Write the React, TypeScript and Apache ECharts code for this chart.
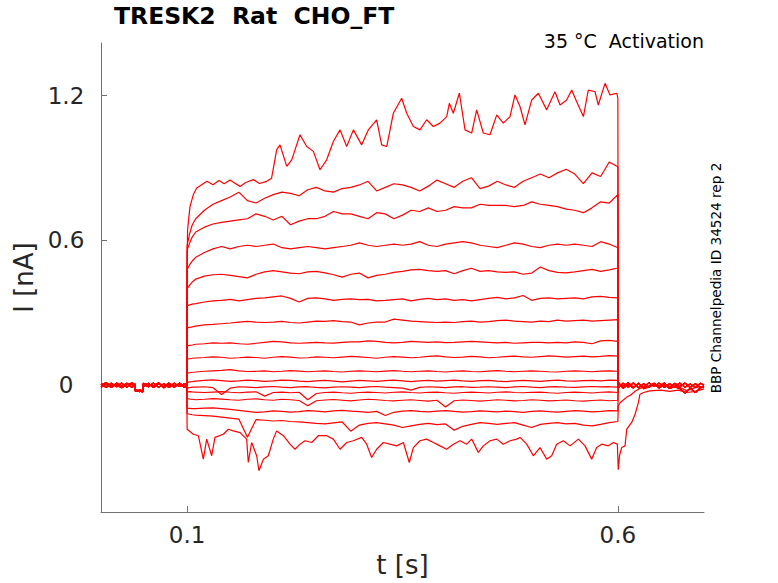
import React, { useEffect, useRef } from 'react';
import * as echarts from 'echarts';

// baseline before the step (three overlapping sweeps)
const preT = [0, 0.006, 0.012, 0.018, 0.024, 0.03, 0.036, 0.0395, 0.04, 0.045, 0.0485,
  0.049, 0.055, 0.061, 0.067, 0.073, 0.079, 0.085, 0.091, 0.097, 0.0995];
const preA = [0.006, -0.009, 0.008, -0.006, 0.009, -0.008, 0.005, -0.003, -0.022, -0.026, -0.02,
  0.003, -0.006, 0.009, -0.008, 0.006, -0.009, 0.008, -0.005, 0.006, 0.0];
const preB = [-0.008, 0.006, -0.009, 0.009, -0.005, 0.008, -0.009, 0.006, -0.026, -0.02, -0.024,
  -0.005, 0.008, -0.009, 0.006, -0.006, 0.009, -0.008, 0.009, -0.006, 0.003];
const preC = [0.002, 0.01, -0.003, 0.002, -0.01, 0.003, 0.009, 0.0, -0.018, -0.024, -0.028,
  0.008, 0.0, -0.003, 0.01, -0.01, 0.002, -0.002, 0.005, -0.009, -0.003];

// baseline after the step
const postT = [0.6005, 0.606, 0.612, 0.618, 0.624, 0.63, 0.636, 0.642, 0.648, 0.654, 0.66,
  0.666, 0.672, 0.678, 0.684, 0.69, 0.696, 0.7];
const postA = [0.008, -0.006, 0.011, -0.009, 0.006, -0.008, 0.01, -0.005, 0.009, -0.009, 0.006,
  -0.006, 0.009, -0.008, 0.005, -0.009, 0.008, 0.0];
const postB = [-0.011, 0.009, -0.008, 0.01, -0.01, 0.006, -0.009, 0.008, -0.006, 0.009, -0.01,
  0.008, -0.006, 0.009, -0.009, 0.006, -0.008, -0.003];
const postC = [0.012, -0.012, 0.003, -0.011, 0.009, -0.014, -0.006, 0.006, -0.011, 0.003, -0.013,
  -0.006, -0.014, -0.032, -0.012, -0.03, -0.01, -0.008];

// largest sweep
const topT = [
  0.1, 0.1005, 0.1033, 0.1072, 0.1111, 0.1169, 0.123, 0.13, 0.137, 0.143,
  0.1498, 0.155, 0.1614, 0.168, 0.1768, 0.184, 0.1923, 0.198, 0.204, 0.2078,
  0.2156, 0.2214, 0.231, 0.2388, 0.2465, 0.2542, 0.262, 0.2697, 0.2775, 0.2852,
  0.293, 0.3026, 0.3103, 0.32, 0.3258, 0.3317, 0.3394, 0.349, 0.3549, 0.3626,
  0.3703, 0.3781, 0.3858, 0.3935, 0.4013, 0.4044, 0.409, 0.416, 0.4226, 0.4303,
  0.4361, 0.4438, 0.4516, 0.4594, 0.467, 0.4748, 0.4806, 0.4864, 0.4922, 0.5,
  0.5077, 0.5174, 0.527, 0.5329, 0.5406, 0.5464, 0.5522, 0.56, 0.5657, 0.5735,
  0.5773, 0.5851, 0.5909, 0.5987, 0.6,
];
const topI = [
  0.5, 0.645, 0.74, 0.79, 0.817, 0.831, 0.845, 0.831, 0.848, 0.835,
  0.85, 0.838, 0.824, 0.84, 0.852, 0.836, 0.845, 0.858, 0.976, 0.996,
  0.907, 0.934, 1.038, 0.989, 0.969, 0.893, 0.934, 1.01, 1.058, 0.989,
  1.058, 0.996, 1.058, 1.1, 0.996, 0.989, 1.127, 1.189, 1.127, 1.072,
  1.058, 1.1, 1.072, 1.086, 1.113, 1.168, 1.127, 1.21, 1.058, 1.045,
  1.141, 1.045, 1.038, 1.12, 1.086, 1.113, 1.203, 1.155, 1.079, 1.182,
  1.21, 1.141, 1.216, 1.161, 1.182, 1.223, 1.175, 1.113, 1.223, 1.216,
  1.161, 1.251, 1.203, 1.21, 1.19,
];

// common time grid for the middle sweeps
const stepT = [
  0.1, 0.103, 0.106, 0.11, 0.12, 0.13, 0.14, 0.15, 0.16, 0.17, 0.18, 0.19,
  0.2, 0.21, 0.22, 0.23, 0.24, 0.25, 0.26, 0.27, 0.28, 0.29,
  0.3, 0.31, 0.32, 0.33, 0.34, 0.35, 0.36, 0.37, 0.38, 0.39,
  0.4, 0.41, 0.42, 0.43, 0.44, 0.45, 0.46, 0.47, 0.48, 0.49,
  0.5, 0.51, 0.52, 0.53, 0.54, 0.55, 0.56, 0.57, 0.58, 0.59,
  0.6,
];
const i2 = [
  0.58, 0.63, 0.665, 0.69, 0.725, 0.75, 0.765, 0.78, 0.8, 0.765, 0.755, 0.775,
  0.79, 0.8, 0.795, 0.785, 0.81, 0.82, 0.805, 0.8, 0.815, 0.82,
  0.83, 0.845, 0.805, 0.82, 0.835, 0.83, 0.82, 0.805, 0.825, 0.85,
  0.835, 0.82, 0.845, 0.86, 0.815, 0.825, 0.845, 0.83, 0.82, 0.845,
  0.86, 0.875, 0.86, 0.88, 0.895, 0.875, 0.835, 0.88, 0.865, 0.925,
  0.905,
];
const i3 = [
  0.56, 0.59, 0.615, 0.635, 0.655, 0.668, 0.675, 0.68, 0.685, 0.69, 0.71, 0.7,
  0.685, 0.7, 0.665, 0.68, 0.69, 0.69, 0.7, 0.72, 0.71, 0.71,
  0.7, 0.69, 0.715, 0.71, 0.69, 0.705, 0.725, 0.72, 0.735, 0.72,
  0.725, 0.74, 0.735, 0.735, 0.75, 0.745, 0.745, 0.745, 0.74, 0.745,
  0.76, 0.75, 0.745, 0.74, 0.73, 0.725, 0.715, 0.735, 0.76, 0.755,
  0.79,
];
const i4 = [
  0.48, 0.5, 0.515, 0.53, 0.55, 0.565, 0.575, 0.565, 0.575, 0.58, 0.575, 0.58,
  0.585, 0.57, 0.565, 0.57, 0.575, 0.57, 0.565, 0.57, 0.575, 0.58,
  0.59, 0.58, 0.575, 0.58, 0.585, 0.58, 0.585, 0.595, 0.58, 0.575,
  0.585, 0.59, 0.595, 0.59, 0.58, 0.575, 0.57, 0.58, 0.59, 0.585,
  0.575, 0.57, 0.58, 0.585, 0.58, 0.585, 0.58, 0.575, 0.595, 0.585,
  0.57,
];
const i5 = [
  0.4, 0.415, 0.428, 0.44, 0.452, 0.458, 0.46, 0.455, 0.45, 0.445, 0.46, 0.47,
  0.475, 0.47, 0.465, 0.462, 0.47, 0.472, 0.466, 0.458, 0.448, 0.46,
  0.465, 0.445, 0.455, 0.46, 0.468, 0.472, 0.478, 0.48, 0.475, 0.472,
  0.475, 0.462, 0.475, 0.485, 0.472, 0.475, 0.47, 0.468, 0.47, 0.46,
  0.465, 0.49, 0.475, 0.468, 0.466, 0.47, 0.475, 0.48, 0.472, 0.478,
  0.486,
];
const i6 = [
  0.33, 0.333, 0.336, 0.338, 0.345, 0.35, 0.352, 0.356, 0.35, 0.355, 0.36, 0.362,
  0.366, 0.37, 0.36, 0.345, 0.36, 0.362, 0.358, 0.352, 0.356, 0.358,
  0.355, 0.356, 0.35, 0.352, 0.355, 0.358, 0.35, 0.356, 0.36, 0.355,
  0.358, 0.352, 0.355, 0.35, 0.355, 0.36, 0.364, 0.358, 0.362, 0.372,
  0.352, 0.36, 0.362, 0.358, 0.36, 0.362, 0.358, 0.366, 0.368, 0.364,
  0.362,
];
const i7 = [
  0.238, 0.24, 0.242, 0.245, 0.25, 0.252, 0.255, 0.258, 0.262, 0.265, 0.262, 0.26,
  0.262, 0.265, 0.26, 0.258, 0.262, 0.266, 0.265, 0.268, 0.264, 0.262,
  0.25, 0.258, 0.262, 0.262, 0.274, 0.27, 0.266, 0.264, 0.262, 0.26,
  0.262, 0.26, 0.264, 0.266, 0.262, 0.264, 0.268, 0.27, 0.266, 0.264,
  0.262, 0.266, 0.264, 0.27, 0.266, 0.268, 0.27, 0.266, 0.268, 0.27,
  0.272,
];
const i8 = [
  0.163, 0.165, 0.167, 0.17, 0.172, 0.176, 0.174, 0.176, 0.172, 0.17, 0.174, 0.178,
  0.182, 0.18, 0.176, 0.174, 0.176, 0.178, 0.176, 0.175, 0.178, 0.18,
  0.18, 0.184, 0.182, 0.178, 0.176, 0.178, 0.182, 0.18, 0.178, 0.18,
  0.177, 0.178, 0.18, 0.182, 0.18, 0.178, 0.176, 0.178, 0.174, 0.176,
  0.178, 0.178, 0.176, 0.178, 0.176, 0.18, 0.178, 0.172, 0.184, 0.186,
  0.182,
];
const i9 = [
  0.108, 0.11, 0.112, 0.113, 0.115, 0.118, 0.116, 0.112, 0.114, 0.117, 0.115, 0.112,
  0.116, 0.119, 0.117, 0.113, 0.114, 0.118, 0.116, 0.114, 0.117, 0.12,
  0.118, 0.115, 0.112, 0.116, 0.119, 0.117, 0.114, 0.116, 0.12, 0.122,
  0.118, 0.115, 0.117, 0.12, 0.118, 0.114, 0.116, 0.119, 0.121, 0.118,
  0.116, 0.119, 0.122, 0.12, 0.117, 0.119, 0.121, 0.118, 0.12, 0.123,
  0.121,
];
const i10 = [
  0.05, 0.052, 0.054, 0.055, 0.058, 0.06, 0.062, 0.065, 0.06, 0.057, 0.058, 0.06,
  0.056, 0.058, 0.061, 0.059, 0.056, 0.058, 0.06, 0.057, 0.055, 0.058,
  0.06, 0.058, 0.056, 0.059, 0.061, 0.058, 0.056, 0.058, 0.06, 0.057,
  0.055, 0.058, 0.06, 0.057, 0.056, 0.059, 0.061, 0.058, 0.056, 0.058,
  0.06, 0.058, 0.056, 0.055, 0.058, 0.06, 0.058, 0.056, 0.059, 0.06,
  0.058,
];
const i11 = [
  0.012, 0.014, 0.015, 0.017, 0.02, 0.022, 0.019, 0.016, 0.018, 0.021, 0.019, 0.016,
  0.018, 0.021, 0.02, 0.017, 0.015, 0.018, 0.02, 0.017, 0.014, 0.017,
  0.02, 0.018, 0.016, 0.019, 0.021, 0.018, 0.015, 0.018, 0.02, 0.017,
  0.019, 0.021, 0.018, 0.016, 0.019, 0.02, 0.017, 0.015, 0.018, 0.02,
  0.018, 0.016, 0.019, 0.021, 0.018, 0.017, 0.019, 0.02, 0.018, 0.021,
  0.02,
];
const i12 = [
  -0.012, -0.01, -0.008, -0.008, -0.006, -0.01, -0.038, -0.012, -0.006, -0.008, -0.01, -0.007,
  -0.005, -0.008, -0.01, -0.007, -0.006, -0.009, -0.011, -0.008, -0.006, -0.008,
  -0.01, -0.007, -0.005, -0.008, -0.01, -0.012, -0.02, -0.009, -0.006, -0.008,
  -0.01, -0.007, -0.006, -0.009, -0.008, -0.006, -0.008, -0.01, -0.007, -0.005,
  -0.008, -0.01, -0.007, -0.006, -0.008, -0.009, -0.007, -0.005, -0.007, -0.006,
  -0.008,
];
const i13 = [
  -0.028, -0.026, -0.027, -0.028, -0.03, -0.028, -0.026, -0.029, -0.031, -0.028, -0.027, -0.045,
  -0.03, -0.028, -0.031, -0.029, -0.06, -0.034, -0.03, -0.028, -0.031, -0.033,
  -0.03, -0.028, -0.03, -0.032, -0.029, -0.027, -0.03, -0.032, -0.029, -0.028,
  -0.031, -0.033, -0.03, -0.028, -0.03, -0.032, -0.029, -0.027, -0.03, -0.031,
  -0.029, -0.028, -0.031, -0.033, -0.03, -0.028, -0.03, -0.032, -0.029, -0.027,
  -0.03,
];
const i14 = [
  -0.055, -0.057, -0.058, -0.06, -0.058, -0.055, -0.057, -0.06, -0.062, -0.058, -0.056, -0.06,
  -0.062, -0.058, -0.06, -0.063, -0.085, -0.064, -0.061, -0.059, -0.062, -0.065,
  -0.061, -0.058, -0.06, -0.063, -0.065, -0.062, -0.06, -0.063, -0.066, -0.062,
  -0.09, -0.064, -0.061, -0.063, -0.066, -0.063, -0.06, -0.062, -0.065, -0.063,
  -0.06, -0.062, -0.065, -0.063, -0.061, -0.064, -0.066, -0.063, -0.061, -0.064,
  -0.062,
];
const i15 = [
  -0.095, -0.096, -0.097, -0.097, -0.095, -0.094, -0.097, -0.1, -0.104, -0.108, -0.112, -0.11,
  -0.106, -0.108, -0.111, -0.109, -0.105, -0.107, -0.11, -0.106, -0.104, -0.107,
  -0.109, -0.112, -0.108, -0.125, -0.112, -0.107, -0.105, -0.108, -0.11, -0.107,
  -0.105, -0.108, -0.111, -0.109, -0.106, -0.108, -0.11, -0.107, -0.109, -0.112,
  -0.108, -0.106, -0.109, -0.111, -0.108, -0.105, -0.107, -0.11, -0.108, -0.105,
  -0.106,
];
const i16 = [
  -0.118, -0.12, -0.122, -0.124, -0.126, -0.128, -0.132, -0.136, -0.14, -0.215, -0.142, -0.145,
  -0.148, -0.146, -0.15, -0.152, -0.155, -0.158, -0.16, -0.156, -0.152, -0.19,
  -0.165, -0.158, -0.155, -0.16, -0.165, -0.175, -0.168, -0.162, -0.158, -0.163,
  -0.16, -0.186, -0.17, -0.162, -0.155, -0.158, -0.162, -0.158, -0.155, -0.165,
  -0.175, -0.162, -0.158, -0.155, -0.16, -0.158, -0.165, -0.168, -0.162, -0.155,
  -0.15,
];
const tail16T = [0.6005, 0.603, 0.606, 0.61, 0.615, 0.62, 0.626, 0.632, 0.64, 0.65, 0.66, 0.67, 0.68, 0.69, 0.7];
const tail16I = [-0.085, -0.07, -0.062, -0.05, -0.04, -0.025, -0.012, -0.006, 0.002, -0.004, 0.003, -0.006, -0.022, -0.01, -0.004];

// most negative sweep, with its slow return after the step
const botT = [
  0.1, 0.1072, 0.113, 0.1188, 0.1227, 0.1285, 0.1323, 0.142, 0.1478, 0.1536,
  0.1614, 0.1691, 0.171, 0.1749, 0.1807, 0.1834, 0.1885, 0.1942, 0.2, 0.2039,
  0.2117, 0.2194, 0.2252, 0.231, 0.2368, 0.2446, 0.2523, 0.262, 0.2697, 0.2775,
  0.2852, 0.2929, 0.3026, 0.3084, 0.3142, 0.32, 0.3278, 0.3355, 0.3433, 0.351,
  0.3579, 0.3626, 0.3703, 0.3781, 0.3858, 0.3935, 0.4013, 0.409, 0.4168, 0.4245,
  0.4303, 0.438, 0.4438, 0.4516, 0.4594, 0.467, 0.4748, 0.4826, 0.4864, 0.4942,
  0.5019, 0.5096, 0.5174, 0.5232, 0.529, 0.5367, 0.5445, 0.5542, 0.5619, 0.5696,
  0.5754, 0.5813, 0.589, 0.5948, 0.5994,
  0.6005, 0.602, 0.6045, 0.6083, 0.6103, 0.6161, 0.62, 0.6238, 0.6257, 0.63,
  0.637, 0.65, 0.66, 0.67, 0.68, 0.69, 0.7,
];
const botI = [
  -0.182, -0.203, -0.209, -0.306, -0.223, -0.292, -0.216, -0.203, -0.182, -0.189,
  -0.196, -0.223, -0.32, -0.237, -0.292, -0.354, -0.306, -0.292, -0.223, -0.189,
  -0.209, -0.244, -0.265, -0.244, -0.23, -0.237, -0.209, -0.209, -0.223, -0.265,
  -0.237, -0.23, -0.216, -0.244, -0.299, -0.265, -0.237, -0.244, -0.251, -0.237,
  -0.32, -0.258, -0.23, -0.223, -0.237, -0.251, -0.265, -0.244, -0.23, -0.244,
  -0.223, -0.278, -0.251, -0.23, -0.223, -0.244, -0.23, -0.223, -0.216, -0.244,
  -0.292, -0.258, -0.306, -0.292, -0.244, -0.23, -0.251, -0.223, -0.251, -0.306,
  -0.258, -0.244, -0.251, -0.237, -0.244,
  -0.35, -0.29, -0.258, -0.251, -0.182, -0.154, -0.12, -0.072, -0.037, -0.03,
  -0.023, -0.02, -0.025, -0.02, -0.03, -0.025, -0.015,
];

const midSweeps = [i2, i3, i4, i5, i6, i7, i8, i9, i10, i11, i12, i13, i14, i15];
const xTicks = [0.1, 0.6];
const yTicks = [0, 0.6, 1.2];

const pre = [preA, preB, preC];
const post = [postA, postB, postC];

const zip = (t: number[], v: number[]) => t.map((x, i) => [x, v[i]]);

const App: React.FC = () => {
  const chartRef = useRef<HTMLDivElement>(null);

  useEffect(() => {
    if (!chartRef.current) return;
    const chart = echarts.init(chartRef.current, null, { renderer: 'svg' });

    const sweeps: number[][][] = [];
    sweeps.push([...zip(preT, pre[0]), ...zip(topT, topI), ...zip(postT, post[0])]);
    midSweeps.forEach((v, k) => {
      const n = k + 1;
      sweeps.push([...zip(preT, pre[n % 3]), ...zip(stepT, v), ...zip(postT, post[n % 3])]);
    });
    sweeps.push([...zip(preT, pre[0]), ...zip(stepT, i16), ...zip(tail16T, tail16I)]);
    sweeps.push([...zip(preT, pre[1]), ...zip(botT, botI)]);

    const font = 'DejaVu Sans';
    const axisColor = '#707070';
    const textColor = '#262626';

    chart.setOption({
      animation: false,
      title: {
        text: 'TRESK2  Rat  CHO_FT',
        left: 114,
        top: 4,
        padding: 0,
        textStyle: { fontFamily: font, fontSize: 23.5, fontWeight: 'bold', color: '#000' },
      },
      grid: { left: 101, right: 74, top: 43, bottom: 70 },
      xAxis: {
        type: 'value',
        min: 0,
        max: 0.7,
        name: 't [s]',
        nameLocation: 'middle',
        nameGap: 40,
        nameTextStyle: { fontFamily: font, fontSize: 26, color: textColor },
        axisLine: { onZero: false, lineStyle: { color: axisColor, width: 1 } },
        axisTick: { inside: true, length: 6, customValues: xTicks, lineStyle: { color: axisColor } },
        axisLabel: {
          customValues: xTicks,
          formatter: (v: number) => String(v),
          fontFamily: font,
          fontSize: 23,
          color: textColor,
          margin: 11,
        },
        splitLine: { show: false },
      },
      yAxis: {
        type: 'value',
        min: -0.525,
        max: 1.418,
        name: 'I [nA]',
        nameLocation: 'middle',
        nameGap: 58,
        nameRotate: 90,
        nameTextStyle: { fontFamily: font, fontSize: 26, color: textColor },
        axisLine: { show: true, onZero: false, lineStyle: { color: axisColor, width: 1 } },
        axisTick: { show: true, inside: true, length: 6, customValues: yTicks, lineStyle: { color: axisColor } },
        axisLabel: {
          customValues: yTicks,
          formatter: (v: number) => String(v),
          fontFamily: font,
          fontSize: 23,
          color: textColor,
          align: 'center',
          margin: 35,
        },
        splitLine: { show: false },
      },
      graphic: [
        {
          type: 'text',
          x: 704,
          y: 41,
          style: {
            text: '35 °C  Activation',
            align: 'right',
            verticalAlign: 'middle',
            fontFamily: font,
            fontSize: 19,
            fill: '#000',
          },
        },
        {
          type: 'text',
          x: 716,
          y: 278,
          rotation: Math.PI / 2,
          style: {
            text: 'BBP Channelpedia ID 34524 rep 2',
            align: 'center',
            verticalAlign: 'middle',
            fontFamily: font,
            fontSize: 13.6,
            fill: '#000',
          },
        },
      ],
      series: sweeps.map((d) => ({
        type: 'line',
        data: d,
        showSymbol: false,
        symbol: 'none',
        silent: true,
        lineStyle: { color: '#ff0000', width: 1.2 },
      })),
    });

    return () => {
      chart.dispose();
    };
  }, []);

  return (
    <div
      ref={chartRef}
      style={{ position: 'fixed', left: 0, top: 0, width: 778, height: 583, background: '#fff' }}
    />
  );
};

export default App;
